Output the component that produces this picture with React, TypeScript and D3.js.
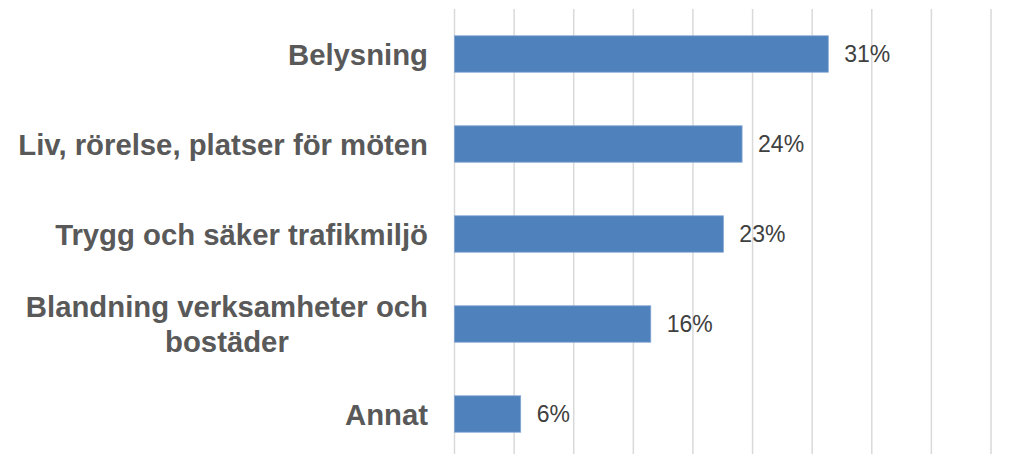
import React, { useEffect, useRef } from 'react';
import * as d3 from 'd3';

// Survey answers, share of respondents
const categories: string[][] = [
  ['Belysning'],
  ['Liv, rörelse, platser för möten'],
  ['Trygg och säker trafikmiljö'],
  ['Blandning verksamheter och', 'bostäder'],
  ['Annat'],
];
const shares: number[] = [0.3135, 0.2412, 0.2255, 0.1646, 0.0555];
const gridTicks: number[] = [0, 0.05, 0.1, 0.15, 0.2, 0.25, 0.3, 0.35, 0.4, 0.45];

const W = 1035;
const H = 454;
const BAR = '#4F81BD';

export default function App() {
  const ref = useRef<SVGSVGElement | null>(null);

  useEffect(() => {
    const node = ref.current;
    if (!node) return;
    const svg = d3.select(node);
    svg.selectAll('*').remove();

    const x = d3.scaleLinear().domain([0, 0.45]).range([454.5, 991]);
    const y = d3.scaleBand<number>()
      .domain(d3.range(categories.length))
      .range([9, 459])
      .paddingInner(0.596)
      .paddingOuter(0.298);

    // vertical gridlines
    svg.append('g')
      .selectAll('line')
      .data(gridTicks)
      .enter().append('line')
      .attr('x1', d => x(d)).attr('x2', d => x(d))
      .attr('y1', 9).attr('y2', 459)
      .attr('stroke', '#d9d9d9')
      .attr('stroke-width', 1.5);

    // bars
    svg.append('g')
      .selectAll('rect')
      .data(shares)
      .enter().append('rect')
      .attr('x', x(0))
      .attr('y', (_, i) => y(i)!)
      .attr('width', d => x(d) - x(0))
      .attr('height', y.bandwidth())
      .attr('fill', BAR)
      .attr('stroke', '#7fa3cf')
      .attr('stroke-width', 0.8);

    // value labels
    const fmt = d3.format('.0%');
    svg.append('g')
      .selectAll('text')
      .data(shares)
      .enter().append('text')
      .attr('x', d => x(d) + 16)
      .attr('y', (_, i) => y(i)! + y.bandwidth() / 2)
      .attr('dy', '0.36em')
      .attr('font-family', '"Liberation Sans", Arial, sans-serif')
      .attr('font-size', 23)
      .attr('fill', '#404040')
      .text(d => fmt(d));

    // category labels (multi-line ones are centred as a block, right aligned)
    const right = 428;
    const lineH = 35;
    const labels = svg.append('g')
      .attr('font-family', '"Liberation Sans", Arial, sans-serif')
      .attr('font-size', 29.3)
      .attr('font-weight', 700)
      .attr('fill', '#595959');
    categories.forEach((lines, i) => {
      const cy = y(i)! + y.bandwidth() / 2;
      const t = labels.append('text').attr('text-anchor', 'middle');
      lines.forEach((ln, j) => {
        t.append('tspan')
          .attr('y', cy + (j - (lines.length - 1) / 2) * lineH)
          .attr('dy', '0.36em')
          .text(ln);
      });
      const spans = t.selectAll<SVGTSpanElement, unknown>('tspan').nodes();
      const widest = d3.max(spans, s => s.getComputedTextLength()) || 0;
      t.selectAll('tspan').attr('x', right - widest / 2);
    });
  }, []);

  return (
    <svg
      ref={ref}
      width={W}
      height={H}
      style={{ position: 'absolute', left: 0, top: 0, background: '#fff' }}
    />
  );
}
